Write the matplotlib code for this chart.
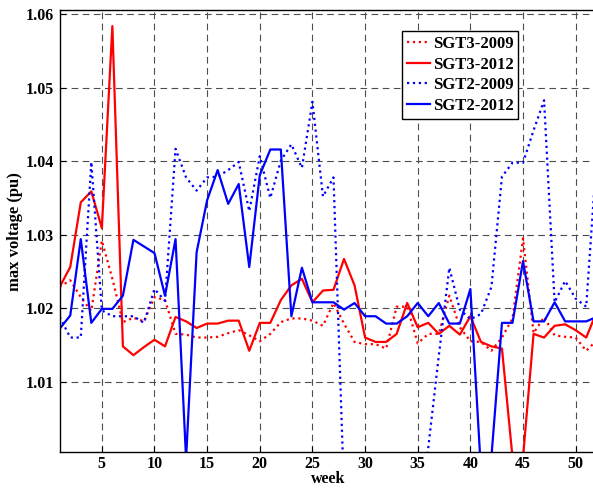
import numpy as np
import matplotlib
matplotlib.use('Agg')
import matplotlib.pyplot as plt

# weekly max voltage (pu)
weeks = np.arange(1, 53)

sgt3_2009 = [1.0229, 1.0238, 1.0215, 1.0196, 1.0292, 1.0240, 1.0181, 1.0187, 1.0182, 1.0215,
             1.0211, 1.0165, 1.0164, 1.0160, 1.0160, 1.0161, 1.0166, 1.0170, 1.0163, 1.0155,
             1.0165, 1.0181, 1.0186, 1.0186, 1.0183, 1.0176, 1.0207, 1.0179, 1.0154, 1.0151,
             1.0151, 1.0145, 1.0202, 1.0202, 1.0152, 1.0165, 1.0165, 1.0217, 1.0174, 1.0155,
             1.0154, 1.0142, 1.0160, 1.0186, 1.0295, 1.0166, 1.0188, 1.0163, 1.0161, 1.0160,
             1.0142, 1.0156]
sgt3_2012 = [1.0229, 1.0256, 1.0344, 1.0359, 1.0309, 1.0584, 1.0148, 1.0136, 1.0147, 1.0157,
             1.0148, 1.0188, 1.0182, 1.0173, 1.0179, 1.0179, 1.0183, 1.0183, 1.0142, 1.0180,
             1.0180, 1.0211, 1.0231, 1.0240, 1.0208, 1.0224, 1.0225, 1.0267, 1.0231, 1.0160,
             1.0154, 1.0154, 1.0165, 1.0207, 1.0174, 1.0180, 1.0165, 1.0176, 1.0164, 1.0189,
             1.0154, 1.0148, 1.0145, 0.9997, 0.9997, 1.0165, 1.0160, 1.0176, 1.0178, 1.0170,
             1.0160, 1.0195]
sgt2_2009 = [1.0188, 1.0160, 1.0160, 1.0399, 1.0197, 1.0189, 1.0189, 1.0189, 1.0180, 1.0226,
             1.0210, 1.0417, 1.0378, 1.0360, 1.0378, 1.0379, 1.0388, 1.0399, 1.0332, 1.0407,
             1.0350, 1.0401, 1.0423, 1.0391, 1.0481, 1.0352, 1.0378, 0.9950, 0.9900, 0.9900,
             0.9900, 0.9900, 0.9900, 0.9900, 0.9900, 1.0010, 1.0135, 1.0255, 1.0198, 1.0185,
             1.0192, 1.0229, 1.0379, 1.0398, 1.0398, 1.0442, 1.0483, 1.0208, 1.0237, 1.0213,
             1.0202, 1.0410]
sgt2_2012 = [1.0172, 1.0190, 1.0294, 1.0180, 1.0199, 1.0199, 1.0217, 1.0293, 1.0284, 1.0275,
             1.0217, 1.0294, 0.9995, 1.0276, 1.0347, 1.0388, 1.0342, 1.0369, 1.0256, 1.0381,
             1.0416, 1.0416, 1.0189, 1.0255, 1.0208, 1.0208, 1.0208, 1.0198, 1.0207, 1.0189,
             1.0189, 1.0179, 1.0179, 1.0189, 1.0207, 1.0189, 1.0207, 1.0179, 1.0179, 1.0226,
             0.9980, 0.9998, 1.0180, 1.0180, 1.0264, 1.0182, 1.0182, 1.0208, 1.0182, 1.0182,
             1.0182, 1.0188]

series = [('SGT3-2009', sgt3_2009, 'red', ':'),
          ('SGT3-2012', sgt3_2012, 'red', '-'),
          ('SGT2-2009', sgt2_2009, 'blue', ':'),
          ('SGT2-2012', sgt2_2012, 'blue', '-')]

plt.rcParams['font.family'] = ['Liberation Serif', 'DejaVu Serif']
plt.rcParams['font.weight'] = 'bold'

fig = plt.figure(figsize=(5.93, 4.88), dpi=100)
# the original is cropped on the right, so the axes run past the figure edge
ax = fig.add_axes([0.1007, 0.0732, 0.9056, 0.9063])

for name, vals, color, ls in series:
    ax.plot(weeks, vals, color=color, linestyle=ls, linewidth=1.6, label=name)

ax.set_xlim(1, 52)
ax.set_ylim(1.00038, 1.06059)
ax.set_xticks(range(5, 51, 5))
ax.set_yticks([1.01, 1.02, 1.03, 1.04, 1.05, 1.06])
ax.set_yticklabels(['1.01', '1.02', '1.03', '1.04', '1.05', '1.06'])
ax.tick_params(direction='in', labelsize=11.5, length=4, width=0.8, pad=4)
ax.tick_params(axis='x', pad=3)
for lab in ax.get_xticklabels() + ax.get_yticklabels():
    lab.set_fontweight('bold')

ax.grid(True, color='0.3', linestyle=(0, (6, 4)), linewidth=0.8)
ax.spines['right'].set_visible(False)
for s in ['left', 'bottom', 'top']:
    ax.spines[s].set_linewidth(1.0)

ax.set_xlabel('week', fontsize=11.5, fontweight='bold', labelpad=-1)
ax.set_ylabel('max voltage (pu)', fontsize=12, fontweight='bold', labelpad=2)

leg = ax.legend(loc='upper left', bbox_to_anchor=(0.637, 0.9525), borderaxespad=0,
                fontsize=12, handlelength=1.4, handletextpad=0.15, labelspacing=0.27,
                fancybox=False, framealpha=1, edgecolor='black', borderpad=0.3)
leg.get_frame().set_linewidth(1.0)
for t in leg.get_texts():
    t.set_fontweight('bold')

fig.savefig('out.png', dpi=100)
